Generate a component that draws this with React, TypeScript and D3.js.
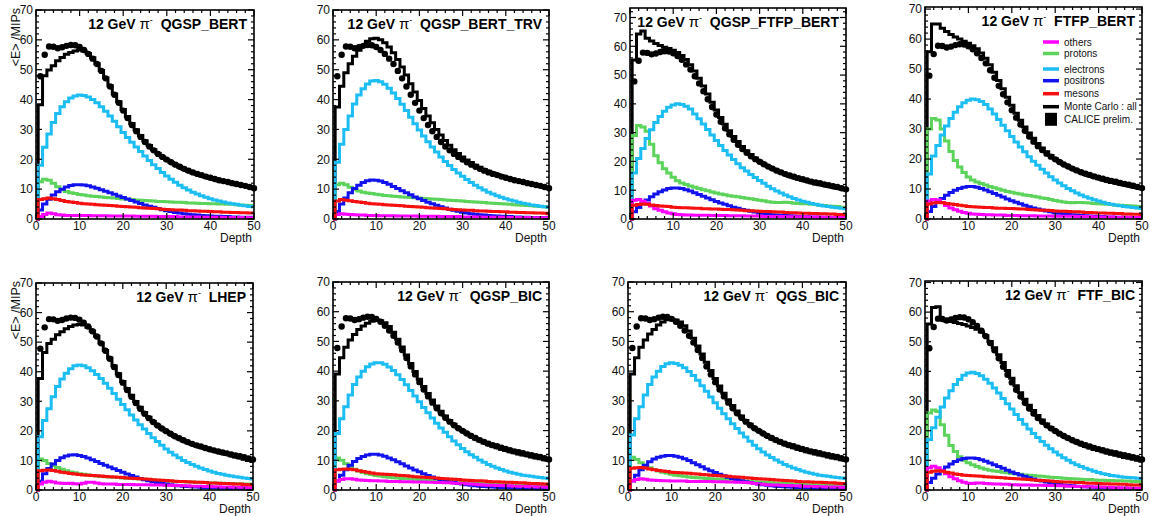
import React from 'react';
import * as d3 from 'd3';

// ---------------- DATA ----------------
const depths = d3.range(1, 51);

const caliceData = [47.8, 55.0, 57.8, 57.7, 57.2, 57.5, 58.0, 58.3, 58.2, 57.6,
  56.6, 55.3, 53.7, 51.9, 49.6, 47.1, 44.4, 41.6, 38.9, 36.3,
  33.8, 31.5, 29.4, 27.5, 25.8, 24.3, 23.0, 21.8, 20.8, 19.9,
  19.0, 18.2, 17.5, 16.8, 16.2, 15.6, 15.1, 14.7, 14.2, 13.8,
  13.4, 13.0, 12.7, 12.4, 12.0, 11.7, 11.4, 11.1, 10.7, 10.3];

// QGSP_BERT
const qgspBert_all = [38.3, 48.0, 49.9, 51.3, 53.0, 54.1, 55.2, 55.8, 56.3, 56.6,
  56.3, 55.4, 54.0, 52.0, 49.7, 47.2, 44.6, 41.9, 39.3, 36.7,
  34.3, 32.0, 29.9, 28.0, 26.2, 24.6, 23.2, 21.9, 20.8, 19.8,
  18.9, 18.1, 17.3, 16.6, 16.0, 15.4, 14.9, 14.4, 14.0, 13.6,
  13.2, 12.8, 12.5, 12.2, 11.8, 11.5, 11.2, 10.9, 10.6, 10.2];
const qgspBert_electrons = [18.0, 24.0, 28.5, 32.3, 35.3, 37.6, 39.3, 40.5, 41.2, 41.5,
  41.4, 40.9, 40.0, 38.9, 37.6, 36.1, 34.5, 32.7, 30.9, 29.0,
  27.3, 25.7, 24.1, 22.6, 21.1, 19.6, 18.2, 16.9, 15.6, 14.4,
  13.3, 12.3, 11.3, 10.5, 9.7, 9.0, 8.4, 7.8, 7.3, 6.8,
  6.4, 6.0, 5.7, 5.4, 5.1, 4.9, 4.6, 4.4, 4.2, 4.1];
const qgspBert_protons = [12.5, 13.3, 13.0, 12.0, 10.8, 9.8, 9.2, 8.8, 8.5, 8.2,
  8.0, 7.8, 7.6, 7.5, 7.4, 7.2, 7.1, 7.0, 6.9, 6.7,
  6.6, 6.5, 6.4, 6.3, 6.2, 6.1, 6.0, 5.9, 5.9, 5.8,
  5.7, 5.6, 5.6, 5.5, 5.4, 5.4, 5.3, 5.2, 5.2, 5.1,
  5.1, 5.0, 5.0, 4.9, 4.9, 4.8, 4.7, 4.6, 4.5, 4.3];
const qgspBert_positrons = [3.0, 5.0, 6.6, 8.0, 9.1, 10.0, 10.7, 11.2, 11.5, 11.5,
  11.4, 11.1, 10.7, 10.3, 9.8, 9.3, 8.8, 8.3, 7.7, 7.2,
  6.7, 6.2, 5.7, 5.2, 4.7, 4.3, 3.9, 3.5, 3.1, 2.8,
  2.5, 2.2, 2.0, 1.8, 1.6, 1.4, 1.3, 1.2, 1.1, 1.0,
  0.9, 0.9, 0.8, 0.8, 0.7, 0.7, 0.6, 0.6, 0.6, 0.5];
const qgspBert_mesons = [6.5, 6.8, 7.0, 6.8, 6.5, 6.2, 5.9, 5.7, 5.5, 5.3,
  5.1, 5.0, 4.9, 4.8, 4.7, 4.6, 4.5, 4.4, 4.3, 4.2,
  4.1, 4.0, 3.9, 3.8, 3.7, 3.6, 3.5, 3.4, 3.3, 3.2,
  3.1, 3.0, 3.0, 2.9, 2.8, 2.8, 2.7, 2.6, 2.6, 2.5,
  2.4, 2.4, 2.3, 2.3, 2.2, 2.2, 2.1, 2.1, 2.0, 2.0];
const qgspBert_others = [0.8, 1.5, 2.0, 1.8, 1.4, 1.3, 1.2, 1.2, 1.2, 1.2,
  1.2, 1.2, 1.1, 1.1, 1.1, 1.1, 1.0, 1.0, 1.0, 1.0,
  1.0, 1.0, 0.9, 0.9, 0.9, 0.9, 0.9, 0.8, 0.8, 0.8,
  0.8, 0.8, 0.7, 0.7, 0.7, 0.7, 0.7, 0.6, 0.6, 0.6,
  0.6, 0.6, 0.5, 0.5, 0.5, 0.5, 0.5, 0.5, 0.4, 0.4];

// QGSP_BERT_TRV
const trv_all = [37.5, 44.5, 49.0, 52.0, 54.5, 56.5, 58.0, 59.5, 60.4, 60.5,
  60.0, 59.0, 57.6, 55.7, 53.4, 50.9, 48.2, 45.3, 42.5, 39.7,
  37.0, 34.5, 32.2, 30.0, 28.1, 26.3, 24.7, 23.2, 21.9, 20.8,
  19.8, 18.9, 18.0, 17.3, 16.6, 16.0, 15.4, 14.9, 14.4, 13.9,
  13.4, 13.0, 12.6, 12.2, 11.9, 11.6, 11.3, 11.0, 10.6, 10.2];
const trv_electrons = [19.0, 25.0, 30.0, 34.5, 38.5, 41.5, 43.6, 45.2, 46.2, 46.4,
  46.0, 45.1, 43.8, 42.2, 40.4, 38.4, 36.3, 34.1, 31.9, 29.8,
  27.8, 25.9, 24.1, 22.4, 20.8, 19.3, 17.9, 16.6, 15.4, 14.3,
  13.2, 12.2, 11.3, 10.5, 9.7, 9.0, 8.4, 7.8, 7.3, 6.8,
  6.4, 6.0, 5.6, 5.3, 5.0, 4.7, 4.5, 4.3, 4.1, 3.9];
const trv_protons = [11.5, 12.0, 11.5, 10.6, 9.9, 9.4, 9.0, 8.7, 8.5, 8.3,
  8.1, 7.9, 7.8, 7.6, 7.5, 7.4, 7.3, 7.2, 7.1, 7.0,
  6.9, 6.8, 6.7, 6.6, 6.5, 6.4, 6.3, 6.2, 6.1, 6.0,
  5.9, 5.8, 5.7, 5.6, 5.5, 5.4, 5.3, 5.2, 5.1, 5.0,
  4.9, 4.8, 4.7, 4.6, 4.5, 4.4, 4.3, 4.2, 4.1, 4.0];
const trv_positrons = [2.5, 5.0, 7.0, 8.8, 10.2, 11.3, 12.2, 12.8, 13.1, 13.0,
  12.7, 12.2, 11.6, 10.9, 10.2, 9.5, 8.8, 8.1, 7.4, 6.8,
  6.2, 5.6, 5.1, 4.6, 4.1, 3.7, 3.3, 2.9, 2.6, 2.3,
  2.0, 1.8, 1.6, 1.4, 1.3, 1.2, 1.1, 1.0, 0.9, 0.8,
  0.8, 0.7, 0.7, 0.6, 0.6, 0.5, 0.5, 0.5, 0.4, 0.4];
const trv_mesons = [6.0, 6.5, 6.3, 6.1, 5.9, 5.7, 5.5, 5.3, 5.1, 5.0,
  4.9, 4.8, 4.7, 4.6, 4.5, 4.4, 4.3, 4.2, 4.1, 4.0,
  3.9, 3.8, 3.7, 3.6, 3.5, 3.4, 3.3, 3.2, 3.1, 3.0,
  2.9, 2.9, 2.8, 2.7, 2.7, 2.6, 2.5, 2.5, 2.4, 2.4,
  2.3, 2.3, 2.2, 2.2, 2.1, 2.1, 2.0, 2.0, 1.9, 1.8];
const trv_others = [1.5, 1.8, 1.6, 1.5, 1.4, 1.3, 1.3, 1.2, 1.2, 1.2,
  1.1, 1.1, 1.1, 1.1, 1.0, 1.0, 1.0, 1.0, 1.0, 0.9,
  0.9, 0.9, 0.9, 0.9, 0.8, 0.8, 0.8, 0.8, 0.8, 0.7,
  0.7, 0.7, 0.7, 0.7, 0.6, 0.6, 0.6, 0.6, 0.6, 0.5,
  0.5, 0.5, 0.5, 0.5, 0.5, 0.4, 0.4, 0.4, 0.4, 0.4];

// QGSP_FTFP_BERT
const qgspFtfp_all = [55.2, 64.3, 65.3, 62.8, 61.8, 61.0, 60.3, 59.7, 59.2, 58.6,
  57.8, 56.8, 55.4, 53.6, 51.4, 48.9, 46.2, 43.4, 40.6, 37.9,
  35.3, 32.9, 30.7, 28.7, 26.9, 25.2, 23.7, 22.4, 21.2, 20.1,
  19.1, 18.2, 17.4, 16.7, 16.0, 15.4, 14.8, 14.3, 13.8, 13.4,
  13.0, 12.6, 12.2, 11.9, 11.6, 11.3, 11.0, 10.7, 10.4, 10.1];
const qgspFtfp_electrons = [16.0, 21.0, 24.5, 28.0, 31.0, 33.5, 35.6, 37.4, 38.8, 39.6,
  40.0, 39.8, 39.2, 38.2, 36.5, 34.8, 33.0, 31.1, 29.2, 27.3,
  25.5, 23.8, 22.2, 20.7, 19.2, 17.8, 16.7, 15.5, 14.4, 13.4,
  12.4, 11.4, 10.5, 9.7, 9.0, 8.3, 7.7, 7.1, 6.6, 6.2,
  5.8, 5.4, 5.1, 4.8, 4.5, 4.3, 4.1, 3.9, 3.7, 3.6];
const qgspFtfp_protons = [29.0, 32.5, 32.0, 30.5, 26.0, 22.0, 19.5, 17.5, 16.0, 14.5,
  13.3, 12.5, 12.0, 11.5, 11.0, 10.6, 10.2, 9.8, 9.4, 9.0,
  8.7, 8.4, 8.1, 7.9, 7.7, 7.5, 7.2, 7.0, 6.8, 6.5,
  6.3, 6.0, 5.8, 5.7, 5.7, 5.8, 5.7, 5.5, 5.4, 5.3,
  5.3, 5.1, 5.0, 4.8, 4.7, 4.5, 4.4, 4.3, 4.1, 4.0];
const qgspFtfp_positrons = [2.5, 4.0, 5.3, 6.6, 7.7, 8.7, 9.5, 10.1, 10.6, 10.8,
  10.8, 10.6, 10.2, 9.7, 9.1, 8.5, 7.9, 7.3, 6.7, 6.1,
  5.6, 5.1, 4.6, 4.1, 3.7, 3.3, 3.0, 2.7, 2.4, 2.1,
  1.9, 1.7, 1.5, 1.4, 1.3, 1.2, 1.1, 1.0, 0.9, 0.8,
  0.8, 0.7, 0.7, 0.6, 0.6, 0.6, 0.5, 0.5, 0.5, 0.4];
const qgspFtfp_mesons = [4.8, 5.0, 5.2, 5.1, 4.9, 4.7, 4.5, 4.4, 4.3, 4.1,
  4.0, 3.9, 3.9, 3.8, 3.7, 3.7, 3.6, 3.6, 3.5, 3.5,
  3.4, 3.3, 3.3, 3.2, 3.1, 3.0, 2.9, 2.9, 2.8, 2.7,
  2.6, 2.6, 2.5, 2.4, 2.4, 2.3, 2.2, 2.2, 2.1, 2.0,
  2.0, 1.9, 1.9, 1.8, 1.8, 1.7, 1.7, 1.6, 1.6, 1.5];
const qgspFtfp_others = [6.5, 6.8, 6.2, 5.5, 4.5, 3.6, 3.0, 2.5, 2.1, 1.8,
  1.6, 1.5, 1.4, 1.4, 1.3, 1.3, 1.3, 1.3, 1.2, 1.2,
  1.2, 1.2, 1.1, 1.1, 1.1, 1.1, 1.0, 1.0, 1.0, 1.0,
  0.9, 0.9, 0.9, 0.9, 0.9, 0.8, 0.8, 0.8, 0.8, 0.8,
  0.7, 0.7, 0.7, 0.7, 0.6, 0.6, 0.6, 0.6, 0.6, 0.5];

// FTFP_BERT
const ftfpBert_all = [55.8, 65.0, 65.0, 63.6, 62.5, 61.5, 60.7, 60.0, 59.3, 58.6,
  57.8, 56.8, 55.4, 53.6, 51.4, 48.9, 46.2, 43.4, 40.6, 37.9,
  35.3, 32.9, 30.7, 28.7, 26.9, 25.2, 23.7, 22.4, 21.2, 20.1,
  19.1, 18.2, 17.4, 16.7, 16.0, 15.4, 14.8, 14.3, 13.8, 13.4,
  13.0, 12.6, 12.2, 11.9, 11.6, 11.3, 11.0, 10.7, 10.4, 10.1];
const ftfpBert_electrons = [15.0, 21.0, 24.5, 28.0, 31.0, 33.5, 35.6, 37.4, 38.8, 39.6,
  40.0, 39.8, 39.2, 38.2, 36.7, 35.0, 33.2, 31.3, 29.4, 27.5,
  25.7, 24.0, 22.4, 20.8, 19.3, 17.9, 16.6, 15.3, 14.1, 13.0,
  12.0, 11.1, 10.2, 9.4, 8.7, 8.0, 7.4, 6.9, 6.4, 6.0,
  5.6, 5.2, 4.9, 4.6, 4.4, 4.2, 4.0, 3.8, 3.7, 3.5];
const ftfpBert_protons = [30.0, 33.5, 33.0, 30.0, 26.0, 22.5, 19.5, 17.3, 15.5, 14.0,
  13.0, 12.3, 11.8, 11.3, 10.8, 10.4, 10.0, 9.6, 9.2, 8.9,
  8.6, 8.3, 8.0, 7.8, 7.6, 7.3, 7.0, 6.8, 6.5, 6.2,
  5.9, 5.7, 5.5, 5.4, 5.5, 5.5, 5.4, 5.3, 5.2, 5.1,
  5.0, 4.9, 4.8, 4.7, 4.6, 4.5, 4.4, 4.3, 4.2, 4.1];
const ftfpBert_positrons = [2.5, 4.2, 5.5, 6.8, 7.9, 8.8, 9.6, 10.2, 10.6, 10.8,
  10.8, 10.6, 10.2, 9.7, 9.1, 8.5, 7.9, 7.3, 6.7, 6.1,
  5.6, 5.1, 4.6, 4.1, 3.7, 3.3, 3.0, 2.7, 2.4, 2.1,
  1.9, 1.7, 1.5, 1.4, 1.3, 1.2, 1.1, 1.0, 0.9, 0.8,
  0.8, 0.7, 0.7, 0.6, 0.6, 0.6, 0.5, 0.5, 0.5, 0.4];
const ftfpBert_mesons = [5.0, 5.3, 5.5, 5.4, 5.2, 5.0, 4.8, 4.6, 4.4, 4.2,
  4.1, 4.0, 3.9, 3.8, 3.8, 3.7, 3.6, 3.6, 3.5, 3.5,
  3.4, 3.3, 3.3, 3.2, 3.1, 3.0, 2.9, 2.9, 2.8, 2.7,
  2.6, 2.6, 2.5, 2.4, 2.4, 2.3, 2.2, 2.2, 2.1, 2.0,
  2.0, 1.9, 1.9, 1.8, 1.8, 1.7, 1.7, 1.6, 1.6, 1.5];
const ftfpBert_others = [6.0, 6.5, 6.3, 5.5, 4.5, 3.7, 3.1, 2.6, 2.2, 1.9,
  1.7, 1.6, 1.5, 1.4, 1.4, 1.3, 1.3, 1.3, 1.2, 1.2,
  1.2, 1.1, 1.1, 1.1, 1.1, 1.0, 1.0, 1.0, 1.0, 0.9,
  0.9, 0.9, 0.9, 0.9, 0.8, 0.8, 0.8, 0.8, 0.7, 0.7,
  0.7, 0.7, 0.7, 0.6, 0.6, 0.6, 0.6, 0.5, 0.5, 0.5];

// LHEP
const lhep_all = [37.7, 46.5, 49.5, 51.0, 52.5, 53.5, 54.5, 55.3, 55.8, 56.0,
  55.8, 55.0, 53.8, 52.0, 49.7, 47.2, 44.6, 41.9, 39.3, 36.7,
  34.3, 32.0, 29.9, 28.0, 26.2, 24.6, 23.2, 21.9, 20.8, 19.8,
  18.9, 18.1, 17.3, 16.6, 16.0, 15.4, 14.9, 14.4, 14.0, 13.6,
  13.2, 12.8, 12.4, 12.0, 11.6, 11.2, 10.8, 10.4, 10.0, 9.6];
const lhep_electrons = [18.0, 23.5, 27.5, 31.5, 35.0, 37.5, 39.5, 41.0, 42.0, 42.3,
  42.0, 41.3, 40.3, 39.1, 37.7, 36.1, 34.4, 32.6, 30.7, 28.9,
  27.1, 25.4, 23.7, 22.1, 20.6, 19.1, 17.7, 16.4, 15.1, 13.9,
  12.8, 11.8, 10.9, 10.0, 9.3, 8.6, 8.0, 7.4, 6.9, 6.4,
  6.0, 5.6, 5.3, 5.0, 4.7, 4.5, 4.3, 4.1, 3.9, 3.7];
const lhep_protons = [10.5, 10.0, 9.0, 8.3, 7.6, 7.0, 6.5, 6.1, 5.8, 5.5,
  5.3, 5.1, 4.9, 4.7, 4.6, 4.5, 4.4, 4.3, 4.2, 4.1,
  4.0, 3.9, 3.8, 3.7, 3.6, 3.5, 3.4, 3.3, 3.2, 3.1,
  3.0, 2.9, 2.9, 2.8, 2.7, 2.7, 2.6, 2.5, 2.5, 2.4,
  2.4, 2.3, 2.3, 2.2, 2.2, 2.1, 2.1, 2.0, 2.0, 1.9];
const lhep_positrons = [3.0, 5.5, 7.3, 8.8, 10.0, 10.9, 11.5, 11.8, 11.9, 11.7,
  11.3, 10.8, 10.2, 9.6, 9.0, 8.4, 7.8, 7.2, 6.6, 6.0,
  5.4, 4.9, 4.4, 3.9, 3.5, 3.1, 2.8, 2.5, 2.2, 2.0,
  1.8, 1.6, 1.4, 1.3, 1.2, 1.1, 1.0, 0.9, 0.8, 0.8,
  0.7, 0.7, 0.6, 0.6, 0.5, 0.5, 0.5, 0.4, 0.4, 0.4];
const lhep_mesons = [6.5, 6.7, 6.8, 6.6, 6.3, 6.0, 5.8, 5.6, 5.4, 5.2,
  5.1, 5.0, 4.9, 4.8, 4.7, 4.6, 4.5, 4.4, 4.3, 4.2,
  4.1, 4.0, 3.9, 3.8, 3.7, 3.6, 3.5, 3.4, 3.3, 3.2,
  3.1, 3.0, 2.9, 2.9, 2.8, 2.7, 2.6, 2.6, 2.5, 2.4,
  2.4, 2.3, 2.2, 2.2, 2.1, 2.0, 2.0, 1.9, 1.8, 1.7];
const lhep_others = [2.0, 2.6, 3.0, 2.7, 2.4, 2.3, 2.2, 2.3, 2.1, 2.0,
  2.3, 2.6, 2.6, 2.4, 2.1, 2.0, 2.0, 2.0, 1.9, 1.9,
  1.9, 1.9, 1.8, 1.8, 1.8, 1.8, 1.7, 1.7, 1.7, 1.6,
  1.6, 1.5, 1.5, 1.4, 1.4, 1.3, 1.3, 1.3, 1.2, 1.2,
  1.1, 1.1, 1.0, 1.0, 1.0, 0.9, 0.9, 0.9, 0.8, 0.8];

// QGSP_BIC
const qgspBic_all = [39.0, 44.5, 48.0, 50.5, 52.3, 54.0, 55.2, 56.1, 56.8, 57.2,
  57.0, 56.3, 55.0, 53.1, 50.7, 48.1, 45.4, 42.6, 39.9, 37.3,
  34.8, 32.5, 30.3, 28.3, 26.5, 24.9, 23.4, 22.1, 20.9, 19.9,
  18.9, 18.0, 17.2, 16.5, 15.8, 15.2, 14.7, 14.2, 13.7, 13.3,
  12.9, 12.5, 12.1, 11.8, 11.5, 11.1, 10.8, 10.5, 10.2, 9.9];
const qgspBic_electrons = [19.0, 24.0, 28.0, 32.0, 35.5, 38.0, 40.0, 41.5, 42.4, 42.8,
  42.8, 42.3, 41.4, 40.2, 38.8, 37.2, 35.4, 33.5, 31.6, 29.7,
  27.8, 26.0, 24.2, 22.5, 20.9, 19.4, 17.9, 16.5, 15.2, 14.0,
  12.9, 11.9, 11.0, 10.1, 9.3, 8.6, 8.0, 7.4, 6.9, 6.4,
  6.0, 5.6, 5.3, 5.0, 4.8, 4.6, 4.4, 4.2, 4.0, 3.9];
const qgspBic_protons = [10.8, 10.0, 8.8, 7.8, 7.0, 6.4, 5.9, 5.5, 5.2, 4.9,
  4.7, 4.5, 4.3, 4.1, 4.0, 3.9, 3.8, 3.7, 3.6, 3.5,
  3.4, 3.3, 3.2, 3.1, 3.0, 2.9, 2.8, 2.7, 2.6, 2.5,
  2.4, 2.3, 2.3, 2.2, 2.1, 2.0, 2.0, 1.9, 1.8, 1.8,
  1.7, 1.7, 1.6, 1.6, 1.5, 1.5, 1.4, 1.4, 1.3, 1.3];
const qgspBic_positrons = [3.0, 5.0, 6.8, 8.3, 9.6, 10.6, 11.3, 11.8, 12.0, 12.0,
  11.8, 11.4, 10.8, 10.2, 9.5, 8.8, 8.1, 7.4, 6.7, 6.1,
  5.5, 4.9, 4.4, 3.9, 3.5, 3.1, 2.8, 2.5, 2.2, 2.0,
  1.8, 1.6, 1.4, 1.3, 1.2, 1.1, 1.0, 0.9, 0.8, 0.8,
  0.7, 0.7, 0.6, 0.6, 0.5, 0.5, 0.5, 0.4, 0.4, 0.4];
const qgspBic_mesons = [6.8, 7.0, 7.1, 7.0, 6.8, 6.5, 6.2, 6.0, 5.7, 5.5,
  5.4, 5.3, 5.2, 5.1, 5.0, 4.9, 4.8, 4.6, 4.5, 4.4,
  4.3, 4.2, 4.1, 4.0, 3.9, 3.8, 3.7, 3.6, 3.5, 3.4,
  3.3, 3.2, 3.1, 3.1, 3.0, 2.9, 2.8, 2.8, 2.7, 2.6,
  2.6, 2.5, 2.4, 2.4, 2.3, 2.2, 2.2, 2.1, 2.0, 1.9];
const qgspBic_others = [3.0, 3.5, 3.8, 3.8, 3.6, 3.4, 3.3, 3.2, 3.1, 3.1,
  3.0, 3.0, 2.9, 2.9, 2.9, 2.8, 2.8, 2.8, 2.7, 2.7,
  2.7, 2.6, 2.6, 2.5, 2.5, 2.4, 2.4, 2.3, 2.3, 2.2,
  2.1, 2.0, 1.9, 1.8, 1.7, 1.6, 1.6, 1.5, 1.5, 1.4,
  1.4, 1.3, 1.3, 1.2, 1.2, 1.1, 1.1, 1.0, 1.0, 0.9];

// QGS_BIC
const qgsBic_all = [39.0, 44.5, 48.0, 50.5, 52.5, 54.0, 55.5, 56.5, 57.3, 57.5,
  57.2, 56.5, 55.3, 53.5, 51.1, 48.5, 45.8, 43.0, 40.2, 37.5,
  35.0, 32.6, 30.4, 28.4, 26.6, 24.9, 23.4, 22.1, 20.9, 19.9,
  18.9, 18.0, 17.2, 16.5, 15.8, 15.2, 14.7, 14.2, 13.7, 13.3,
  12.9, 12.5, 12.1, 11.8, 11.5, 11.1, 10.8, 10.5, 10.2, 9.9];
const qgsBic_electrons = [18.5, 24.0, 28.0, 32.0, 35.5, 38.0, 40.0, 41.6, 42.5, 42.8,
  42.6, 42.0, 41.1, 39.9, 38.5, 36.9, 35.1, 33.2, 31.3, 29.4,
  27.5, 25.7, 24.0, 22.3, 20.7, 19.2, 17.8, 16.4, 15.1, 13.9,
  12.8, 11.8, 10.9, 10.1, 9.3, 8.6, 8.0, 7.4, 6.9, 6.4,
  6.0, 5.6, 5.3, 5.0, 4.8, 4.6, 4.4, 4.2, 4.0, 3.9];
const qgsBic_protons = [11.0, 10.3, 9.2, 8.3, 7.5, 6.9, 6.4, 6.0, 5.6, 5.3,
  5.0, 4.8, 4.6, 4.4, 4.2, 4.1, 4.0, 3.9, 3.8, 3.7,
  3.6, 3.5, 3.4, 3.3, 3.2, 3.1, 3.0, 2.9, 2.8, 2.7,
  2.6, 2.5, 2.4, 2.3, 2.2, 2.2, 2.1, 2.0, 2.0, 1.9,
  1.8, 1.8, 1.7, 1.7, 1.6, 1.6, 1.5, 1.5, 1.4, 1.4];
const qgsBic_positrons = [3.0, 5.0, 6.8, 8.3, 9.5, 10.4, 11.0, 11.4, 11.6, 11.6,
  11.4, 11.0, 10.5, 9.9, 9.2, 8.5, 7.8, 7.1, 6.5, 5.9,
  5.3, 4.8, 4.3, 3.9, 3.5, 3.1, 2.8, 2.5, 2.2, 2.0,
  1.8, 1.6, 1.4, 1.3, 1.2, 1.1, 1.0, 0.9, 0.8, 0.8,
  0.7, 0.7, 0.6, 0.6, 0.5, 0.5, 0.5, 0.4, 0.4, 0.4];
const qgsBic_mesons = [7.3, 7.5, 7.6, 7.4, 7.1, 6.8, 6.6, 6.4, 6.2, 6.0,
  5.9, 5.8, 5.7, 5.6, 5.5, 5.4, 5.2, 5.1, 5.0, 4.9,
  4.8, 4.7, 4.6, 4.5, 4.4, 4.3, 4.1, 4.0, 3.9, 3.8,
  3.7, 3.6, 3.5, 3.4, 3.3, 3.2, 3.1, 3.0, 2.9, 2.8,
  2.8, 2.7, 2.6, 2.6, 2.5, 2.4, 2.4, 2.3, 2.2, 2.2];
const qgsBic_others = [3.0, 3.5, 3.8, 3.6, 3.4, 3.3, 3.2, 3.1, 3.1, 3.0,
  3.0, 3.0, 3.0, 2.9, 2.9, 2.9, 2.9, 2.9, 2.9, 2.8,
  2.8, 2.8, 2.7, 2.7, 2.6, 2.6, 2.5, 2.4, 2.2, 2.0,
  1.9, 1.8, 1.7, 1.7, 1.6, 1.5, 1.5, 1.4, 1.4, 1.3,
  1.3, 1.2, 1.2, 1.1, 1.1, 1.0, 1.0, 1.0, 0.9, 0.9];

// FTF_BIC
const ftfBic_all = [56.0, 61.6, 61.8, 57.5, 57.0, 56.8, 56.5, 56.2, 55.8, 55.3,
  54.8, 54.2, 53.3, 52.0, 50.1, 48.0, 45.6, 43.0, 40.3, 37.7,
  35.2, 32.8, 30.6, 28.6, 26.8, 25.1, 23.6, 22.3, 21.1, 20.0,
  19.0, 18.1, 17.3, 16.6, 15.9, 15.3, 14.7, 14.2, 13.7, 13.3,
  12.9, 12.5, 12.1, 11.7, 11.4, 11.0, 10.7, 10.4, 10.0, 9.7];
const ftfBic_electrons = [17.0, 21.0, 24.5, 28.0, 31.0, 33.5, 35.6, 37.3, 38.7, 39.5,
  39.7, 39.3, 38.5, 37.4, 36.0, 34.4, 32.7, 30.9, 29.1, 27.3,
  25.5, 23.8, 22.2, 20.6, 19.1, 17.7, 16.4, 15.1, 13.9, 12.8,
  11.8, 10.9, 10.0, 9.2, 8.5, 7.9, 7.3, 6.8, 6.3, 5.9,
  5.5, 5.2, 4.9, 4.7, 4.5, 4.3, 4.2, 4.1, 4.0, 3.9];
const ftfBic_protons = [26.0, 27.0, 26.5, 22.0, 18.5, 15.0, 13.0, 11.2, 10.0, 9.2,
  8.5, 7.9, 7.4, 7.0, 6.7, 6.4, 6.2, 6.0, 5.8, 5.6,
  5.4, 5.3, 5.1, 5.0, 4.9, 4.7, 4.6, 4.5, 4.3, 4.2,
  4.1, 4.0, 3.9, 3.8, 3.7, 3.6, 3.5, 3.5, 3.4, 3.3,
  3.3, 3.2, 3.2, 3.1, 3.1, 3.0, 3.0, 2.9, 2.9, 2.8];
const ftfBic_positrons = [2.5, 4.0, 5.4, 6.7, 7.8, 8.8, 9.6, 10.2, 10.6, 10.8,
  10.8, 10.6, 10.2, 9.7, 9.1, 8.5, 7.9, 7.3, 6.7, 6.1,
  5.6, 5.1, 4.6, 4.1, 3.7, 3.3, 3.0, 2.7, 2.4, 2.1,
  1.9, 1.7, 1.5, 1.4, 1.3, 1.2, 1.1, 1.0, 0.9, 0.8,
  0.8, 0.7, 0.7, 0.6, 0.6, 0.6, 0.5, 0.5, 0.5, 0.4];
const ftfBic_mesons = [6.0, 6.3, 6.5, 6.3, 6.0, 5.7, 5.4, 5.2, 5.0, 4.9,
  4.8, 4.7, 4.6, 4.5, 4.4, 4.3, 4.2, 4.1, 4.0, 3.9,
  3.8, 3.7, 3.6, 3.5, 3.4, 3.3, 3.2, 3.1, 3.0, 2.9,
  2.8, 2.7, 2.7, 2.6, 2.5, 2.5, 2.4, 2.3, 2.3, 2.2,
  2.1, 2.1, 2.0, 2.0, 1.9, 1.9, 1.8, 1.7, 1.7, 1.6];
const ftfBic_others = [7.5, 8.0, 7.5, 6.5, 5.5, 4.5, 3.8, 3.1, 2.6, 2.3,
  2.2, 2.4, 2.4, 2.2, 2.1, 2.0, 2.0, 1.9, 1.9, 1.8,
  1.8, 1.7, 1.7, 1.7, 1.6, 1.6, 1.6, 1.5, 1.5, 1.5,
  1.4, 1.4, 1.3, 1.3, 1.2, 1.2, 1.1, 1.1, 1.0, 1.0,
  1.0, 0.9, 0.9, 0.8, 0.8, 0.8, 0.7, 0.7, 0.6, 0.6];

const modelNames = ['QGSP_BERT', 'QGSP_BERT_TRV', 'QGSP_FTFP_BERT', 'FTFP_BERT',
  'LHEP', 'QGSP_BIC', 'QGS_BIC', 'FTF_BIC'];

const legendLabels = ['others', 'protons', 'electrons', 'positrons', 'mesons', 'Monte Carlo : all', 'CALICE prelim.'];

// ---------------- STYLE / LAYOUT ----------------
const COLORS = {
  all: '#000000',
  protons: '#5cd35a',
  electrons: '#1cbdf2',
  positrons: '#1212ee',
  others: '#ff00ff',
  mesons: '#f50f0f',
};

const FONT = "'Liberation Sans', Arial, Helvetica, sans-serif";

const layout = [
  { left: 36, right: 254, top: 10, bottom: 219, ymax: 70, yTitle: true },
  { left: 333, right: 549, top: 10, bottom: 219, ymax: 70 },
  { left: 630, right: 846, top: 8, bottom: 219, ymax: 73.3 },
  { left: 925, right: 1142, top: 7, bottom: 219, ymax: 70.7, legend: true },
  { left: 36, right: 253, top: 283, bottom: 490, ymax: 70, yTitle: true },
  { left: 333, right: 549, top: 282, bottom: 490, ymax: 70 },
  { left: 628, right: 846, top: 282, bottom: 490, ymax: 70 },
  { left: 925, right: 1142, top: 281, bottom: 490, ymax: 70.5 },
];

const legendRowsY = [42, 53.5, 69, 80.7, 93.7, 106.7, 119.3];

const panelSeries = [
  { all: qgspBert_all, electrons: qgspBert_electrons, protons: qgspBert_protons, positrons: qgspBert_positrons, mesons: qgspBert_mesons, others: qgspBert_others },
  { all: trv_all, electrons: trv_electrons, protons: trv_protons, positrons: trv_positrons, mesons: trv_mesons, others: trv_others },
  { all: qgspFtfp_all, electrons: qgspFtfp_electrons, protons: qgspFtfp_protons, positrons: qgspFtfp_positrons, mesons: qgspFtfp_mesons, others: qgspFtfp_others },
  { all: ftfpBert_all, electrons: ftfpBert_electrons, protons: ftfpBert_protons, positrons: ftfpBert_positrons, mesons: ftfpBert_mesons, others: ftfpBert_others },
  { all: lhep_all, electrons: lhep_electrons, protons: lhep_protons, positrons: lhep_positrons, mesons: lhep_mesons, others: lhep_others },
  { all: qgspBic_all, electrons: qgspBic_electrons, protons: qgspBic_protons, positrons: qgspBic_positrons, mesons: qgspBic_mesons, others: qgspBic_others },
  { all: qgsBic_all, electrons: qgsBic_electrons, protons: qgsBic_protons, positrons: qgsBic_positrons, mesons: qgsBic_mesons, others: qgsBic_others },
  { all: ftfBic_all, electrons: ftfBic_electrons, protons: ftfBic_protons, positrons: ftfBic_positrons, mesons: ftfBic_mesons, others: ftfBic_others },
];

const drawOrder: (keyof typeof COLORS)[] = ['all', 'protons', 'electrons', 'positrons', 'others', 'mesons'];

function Panel({ p, series, model }: any) {
  const x = d3.scaleLinear().domain([0, 50]).range([p.left, p.right]);
  const y = d3.scaleLinear().domain([0, p.ymax]).range([p.bottom, p.top]);
  const line = d3.line<[number, number]>()
    .x(d => x(d[0]))
    .y(d => y(d[1]))
    .curve(d3.curveStep);
  const pts = (vals: number[]): [number, number][] =>
    [[0, 0] as [number, number]].concat(vals.map((v, i) => [depths[i], v] as [number, number]));

  const xMajor = x.ticks(5);
  const xMinor = d3.range(0, 50.001, 2).filter(v => v % 10 !== 0);
  const yMajor = d3.range(0, p.ymax + 0.001, 10);
  const yMinor = d3.range(0, p.ymax + 0.001, 2).filter(v => v % 10 !== 0);
  const MAJ = 6, MIN = 3;

  return (
    <g>
      {drawOrder.map(k => (
        <path key={k} d={line(pts(series[k])) || ''} fill="none" stroke={COLORS[k]}
          strokeWidth={3} strokeLinejoin="miter" strokeLinecap="butt" />
      ))}
      {caliceData.map((v, i) => (
        <circle key={i} cx={x(depths[i])} cy={y(v)} r={3.2} fill="#000" />
      ))}
      {/* frame */}
      <rect x={p.left} y={p.top} width={p.right - p.left} height={p.bottom - p.top}
        fill="none" stroke="#000" strokeWidth={1.6} />
      {/* x ticks */}
      {xMajor.map(v => (
        <g key={'xm' + v}>
          <line x1={x(v)} x2={x(v)} y1={p.bottom} y2={p.bottom - MAJ} stroke="#000" strokeWidth={1.2} />
          <line x1={x(v)} x2={x(v)} y1={p.top} y2={p.top + MAJ} stroke="#000" strokeWidth={1.2} />
          <text x={x(v)} y={p.bottom + 11} textAnchor="middle" fontSize={12} fontFamily={FONT} fill="#111">{v}</text>
        </g>
      ))}
      {xMinor.map(v => (
        <g key={'xn' + v}>
          <line x1={x(v)} x2={x(v)} y1={p.bottom} y2={p.bottom - MIN} stroke="#000" strokeWidth={1.2} />
          <line x1={x(v)} x2={x(v)} y1={p.top} y2={p.top + MIN} stroke="#000" strokeWidth={1.2} />
        </g>
      ))}
      {/* y ticks */}
      {yMajor.map(v => (
        <g key={'ym' + v}>
          <line x1={p.left} x2={p.left + MAJ} y1={y(v)} y2={y(v)} stroke="#000" strokeWidth={1.2} />
          <line x1={p.right} x2={p.right - MAJ} y1={y(v)} y2={y(v)} stroke="#000" strokeWidth={1.2} />
          <text x={p.left - 3} y={y(v) + 4.3} textAnchor="end" fontSize={12} fontFamily={FONT} fill="#111">{v}</text>
        </g>
      ))}
      {yMinor.map(v => (
        <g key={'yn' + v}>
          <line x1={p.left} x2={p.left + MIN} y1={y(v)} y2={y(v)} stroke="#000" strokeWidth={1.2} />
          <line x1={p.right} x2={p.right - MIN} y1={y(v)} y2={y(v)} stroke="#000" strokeWidth={1.2} />
        </g>
      ))}
      {/* axis titles */}
      <text x={p.right - 2} y={p.bottom + 23} textAnchor="end" fontSize={12} fontFamily={FONT} fill="#111">Depth</text>
      {p.yTitle && (
        <text transform={`translate(${p.left - 16},${p.top - 2}) rotate(-90)`} textAnchor="end"
          fontSize={12.5} fontFamily={FONT} fill="#111">{'<E> /MIPs'}</text>
      )}
      {/* model title */}
      <text x={p.right - 7} y={p.top + 19} textAnchor="end" fontSize={14} fontWeight="bold" fontFamily={FONT} fill="#000">
        {'12 GeV '}
        <tspan fontWeight="normal" fontSize={15}>π</tspan>
        <tspan dy={-6} fontSize={9} fontWeight="normal">-</tspan>
        <tspan dy={6}>{'\u00a0\u00a0' + model}</tspan>
      </text>
      {p.legend && (
        <g>
          {legendLabels.map((lab, i) => {
            const yy = legendRowsY[i];
            const keys = ['others', 'protons', 'electrons', 'positrons', 'mesons', 'all'];
            return (
              <g key={lab}>
                {i < 6 ? (
                  <line x1={1043} x2={1059} y1={yy} y2={yy} stroke={COLORS[keys[i] as keyof typeof COLORS]} strokeWidth={3.5} />
                ) : (
                  <rect x={1045} y={yy - 6.5} width={12} height={13} fill="#000" />
                )}
                <text x={1064} y={yy + 3.5} fontSize={10} fontFamily={FONT} fill="#111">{lab}</text>
              </g>
            );
          })}
        </g>
      )}
    </g>
  );
}

export default function App() {
  return (
    <svg width={1150} height={516} style={{ position: 'absolute', left: 0, top: 0, background: '#fff' }}>
      <rect x={0} y={0} width={1150} height={516} fill="#fff" />
      {layout.map((p, i) => (
        <Panel key={i} p={p} series={panelSeries[i]} model={modelNames[i]} />
      ))}
    </svg>
  );
}
